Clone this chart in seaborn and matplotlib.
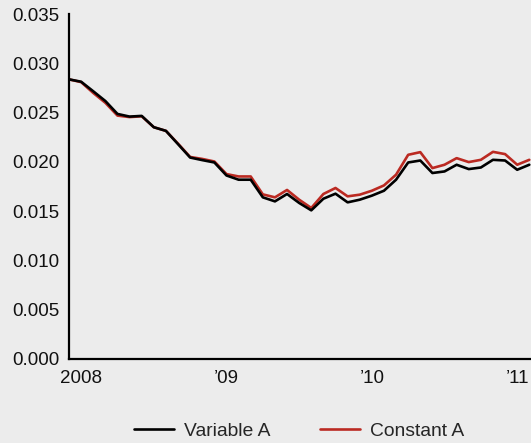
import numpy as np
import pandas as pd
import matplotlib
matplotlib.use("Agg")
import matplotlib.pyplot as plt
import seaborn as sns

# Data (monthly observations, Dec 2007 .. Feb 2011 approx.)
variable_a = [0.02838, 0.02814, 0.02717, 0.02618, 0.02487, 0.02460, 0.02467, 0.02352,
              0.02315, 0.02180, 0.02044, 0.02018, 0.01994, 0.01862, 0.01819, 0.01819,
              0.01640, 0.01599, 0.01674, 0.01583, 0.01508, 0.01626, 0.01677, 0.01589,
              0.01616, 0.01657, 0.01707, 0.01819, 0.01994, 0.02014, 0.01887, 0.01903,
              0.01971, 0.01927, 0.01943, 0.02021, 0.02014, 0.01920, 0.01971]
constant_a = [0.02838, 0.02810, 0.02700, 0.02600, 0.02470, 0.02455, 0.02463, 0.02352,
              0.02315, 0.02185, 0.02050, 0.02030, 0.02004, 0.01876, 0.01852, 0.01852,
              0.01670, 0.01640, 0.01715, 0.01616, 0.01532, 0.01674, 0.01735, 0.01650,
              0.01667, 0.01707, 0.01761, 0.01870, 0.02072, 0.02099, 0.01937, 0.01971,
              0.02038, 0.01998, 0.02021, 0.02102, 0.02079, 0.01971, 0.02021]
year_labels = ["2008", "\u201909", "\u201910", "\u201911"]
year_tick_periods = [1, 13, 25, 37]   # January of each year
y_ticks = [0.000, 0.005, 0.010, 0.015, 0.020, 0.025, 0.030, 0.035]

period = np.arange(len(variable_a))
df = pd.DataFrame({"period": period, "Variable A": variable_a, "Constant A": constant_a})

sns.set_theme(style="white")
plt.rcParams["font.family"] = ["Liberation Sans", "DejaVu Sans"]

bg = "#ececec"
red = "#bb2a22"
fs = 13.5
fig = plt.figure(figsize=(5.31, 4.43), dpi=100, facecolor=bg)
ax = fig.add_axes([0.130, 0.190, 0.870, 0.778])
ax.set_facecolor(bg)

sns.lineplot(data=df, x="period", y="Constant A", ax=ax, color=red, linewidth=1.9, label="Constant A")
sns.lineplot(data=df, x="period", y="Variable A", ax=ax, color="black", linewidth=1.9, label="Variable A")

ax.set_xlim(0, 38.14)
ax.set_ylim(0, 0.035)
ax.set_xticks(year_tick_periods)
ax.set_xticklabels(year_labels)
ax.set_yticks(y_ticks)
ax.set_yticklabels([f"{v:.3f}" for v in y_ticks])
ax.set_xlabel("")
ax.set_ylabel("")

for s in ["top", "right"]:
    ax.spines[s].set_visible(False)
for s in ["left", "bottom"]:
    ax.spines[s].set_color("black")
    ax.spines[s].set_linewidth(1.6)
ax.tick_params(axis="both", direction="in", length=4, width=1.4, colors="black",
               labelsize=fs, labelcolor="#111111")
ax.tick_params(axis="y", pad=7)
ax.tick_params(axis="x", pad=8)

ax.get_legend().remove()
handles, labels = ax.get_legend_handles_labels()
order = [labels.index("Variable A"), labels.index("Constant A")]
fig.legend([handles[i] for i in order], [labels[i] for i in order],
           loc="center", bbox_to_anchor=(0.563, 0.026), ncol=2, frameon=False,
           fontsize=13.9, handlelength=2.07, handletextpad=0.52, columnspacing=2.54)

fig.savefig("out.png", dpi=100, facecolor=bg)
